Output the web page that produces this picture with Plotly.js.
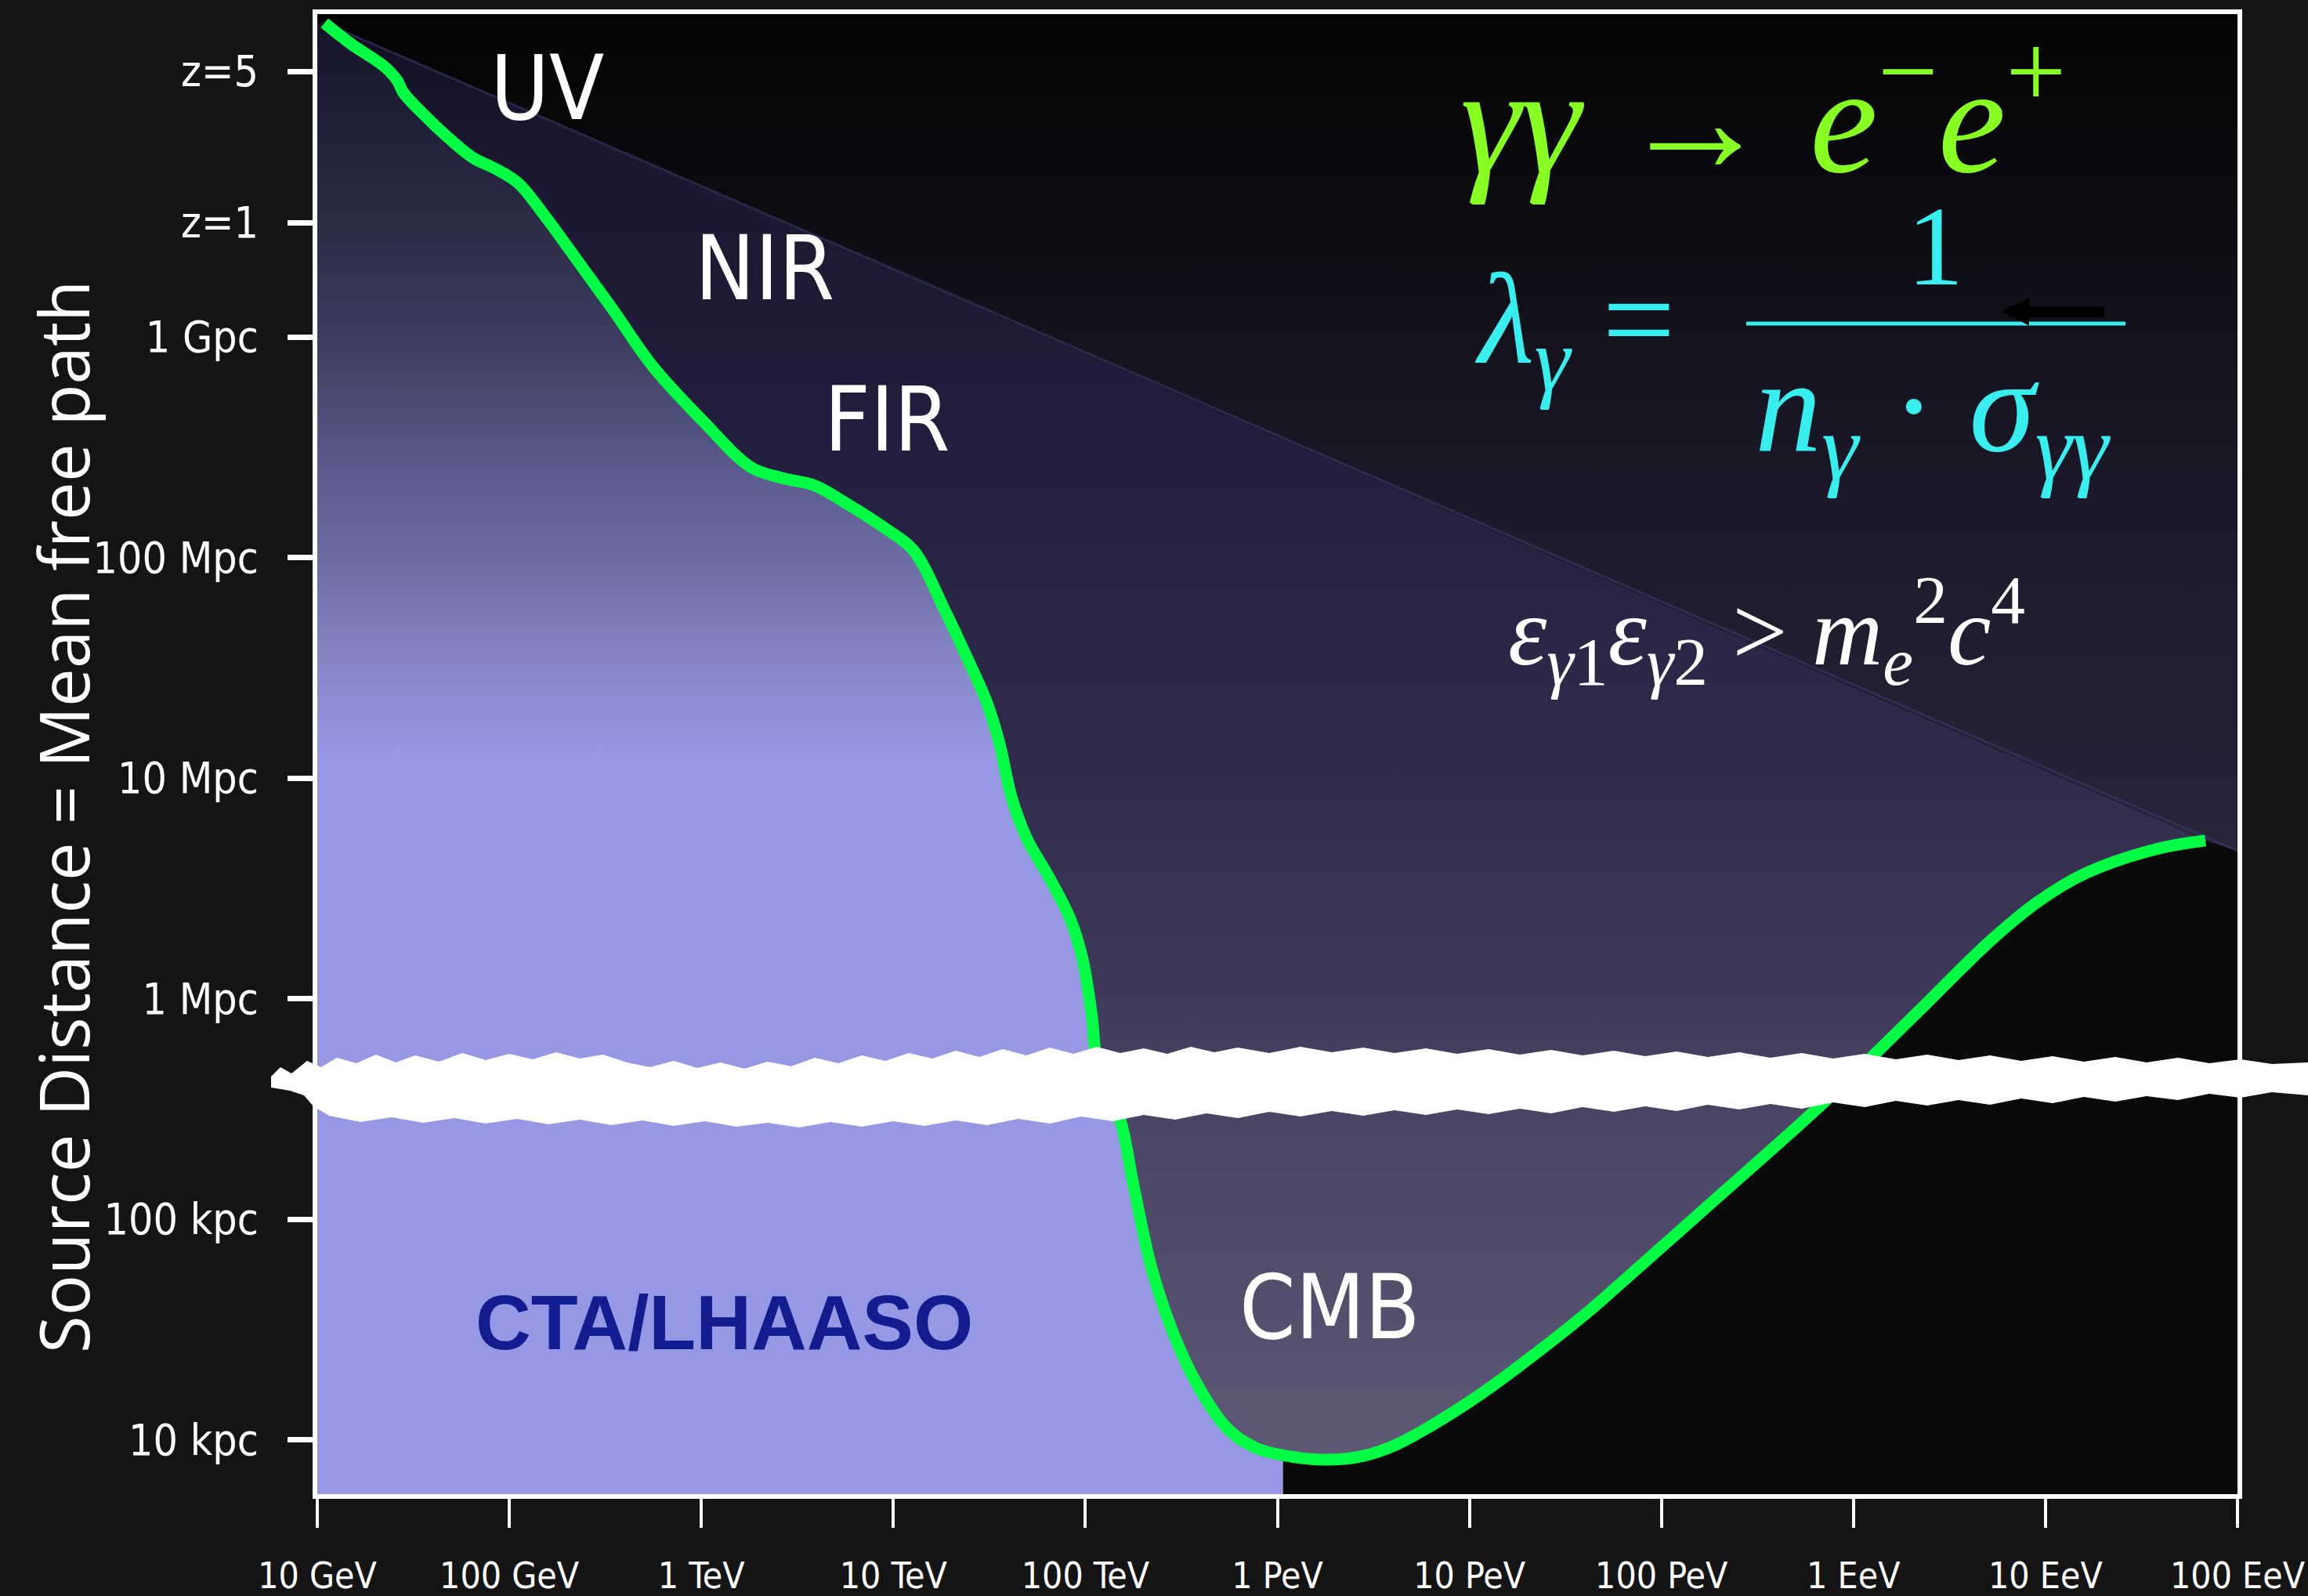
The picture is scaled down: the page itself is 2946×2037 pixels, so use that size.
<!DOCTYPE html>
<html><head><meta charset="utf-8">
<script src="https://cdn.plot.ly/plotly-3.0.1.min.js"></script>
<style>html,body{margin:0;padding:0;background:#141414;} #chart{width:2946px;height:2037px;}</style>
</head><body><div id="chart"></div>
<script>
// ---- tick labels ----
const energyTickVals = [1e1,1e2,1e3,1e4,1e5,1e6,1e7,1e8,1e9,1e10,1e11]; // GeV
const energyTickText = ["10 GeV","100 GeV","1 TeV","10 TeV","100 TeV","1 PeV","10 PeV","100 PeV","1 EeV","10 EeV","100 EeV"];
const distTickVals = [1e1,1e2,1e3,1e4,1e5,1e6,3.3e6,1.6e7]; // kpc
const distTickText = ["10 kpc","100 kpc","1 Mpc","10 Mpc","100 Mpc","1 Gpc","z=1","z=5"];

// ---- gamma-ray mean free path (green curve): energy in GeV, distance in kpc ----
const curveE = [10.9, 15.1, 22.2, 26.0, 28.1, 35.8, 47.0, 64.7, 84.9, 111, 153, 223, 344, 558, 1010, 1820, 2650, 3900, 5680, 9140,
  12700, 18500, 24900, 30700, 35600, 41400, 49500, 65000, 83000, 96400, 107900, 116100, 151000, 179100, 219800, 283100, 378400,
  550800, 772700, 1.07e6, 1.78e6, 2.72e6, 4.14e6, 6.25e6, 1.17e7, 2.20e7, 4.12e7, 6.17e7, 1.75e8, 5.43e8, 1.07e9, 2.22e9,
  5.21e9, 9.14e9, 1.62e10, 3.77e10, 6.81e10];
const curveD = [2.65e7, 2.12e7, 1.69e7, 1.46e7, 1.28e7, 1.02e7, 8.15e6, 6.49e6, 5.78e6, 4.99e6, 3.54e6, 2.26e6, 1.34e6, 7.36e5,
  4.19e5, 2.56e5, 2.29e5, 2.12e5, 1.76e5, 1.35e5, 1.08e5, 5.78e4, 3.33e4, 2.20e4, 1.45e4, 8110, 5330, 3520, 2320, 1530, 847,
  498, 288, 139, 61.2, 31.3, 18.1, 11.2, 9.18, 8.5, 8.11, 8.39, 9.48, 11.5, 16.3, 24.5, 37.8, 51.4, 115, 276, 478, 889, 1840,
  2750, 3700, 4760, 5210];

// ---- horizon (upper boundary of the photon-field region) ----
const horizonE = [10.9, 1e11];
const horizonD = [2.65e7, 4680];

// ---- CTA/LHAASO energy reach (GeV) ----
const ctaMaxE = 1.07e6;

// ---- axis ranges (log10) ----
const xRange = [1, 11];
const yRange = [0.7531, 7.4636];
const dTop = Math.pow(10, yRange[1]);
const dBottom = Math.pow(10, yRange[0]);
const eLeft = Math.pow(10, xRange[0]);
const eRight = Math.pow(10, xRange[1]);

const nLast = curveE.length - 1;

// Region above horizon
const skyTrace = {
  x: [eLeft, eRight, eRight, curveE[nLast], curveE[0], eLeft],
  y: [dTop, dTop, horizonD[1], curveD[nLast], curveD[0], curveD[0]],
  mode: 'lines', line: {width: 0}, fill: 'toself',
  fillgradient: {type: 'vertical', colorscale: [[0,'#28253c'],[0.146,'#232034'],[0.434,'#1b1929'],[0.736,'#0e0d13'],[1,'#030303']]},
  hoverinfo: 'skip', showlegend: false
};

// Region between horizon and curve (photon fields)
const fieldTrace = {
  x: curveE, y: curveD, mode: 'lines', line: {width: 0, shape: 'spline', smoothing: 1}, fill: 'toself',
  fillgradient: {type: 'vertical', colorscale: [[0,'#5e5975'],[0.128,'#524d6b'],[0.242,'#4a4565'],[0.322,'#3f3a5a'],[0.489,'#302b4b'],[0.711,'#221e3e'],[0.791,'#1e1b36'],[0.916,'#1a182f'],[1,'#100f22']]},
  hoverinfo: 'skip', showlegend: false
};

// CTA/LHAASO region (below curve up to ctaMaxE)
const ctaX = [eLeft], ctaY = [curveD[0]];
for (let i = 0; i < curveE.length; i++) { if (curveE[i] <= ctaMaxE) { ctaX.push(curveE[i]); ctaY.push(curveD[i]); } }
ctaX.push(ctaMaxE, eLeft); ctaY.push(dBottom, dBottom);
const ctaTrace = {
  x: ctaX, y: ctaY, mode: 'lines', line: {width: 0}, fill: 'toself',
  fillgradient: {type: 'vertical', colorscale: [[0,'#9698e4'],[0.503,'#9698e4'],[0.572,'#8484c4'],[0.635,'#6b6ca2'],[0.698,'#5a5a8c'],[0.784,'#3d3d60'],[0.869,'#2a2a44'],[1,'#15142a']]},
  hoverinfo: 'skip', showlegend: false
};

const horizonTrace = {
  x: horizonE, y: horizonD, mode: 'lines', line: {color: 'rgba(60,57,105,0.6)', width: 3},
  hoverinfo: 'skip', showlegend: false
};

const curveTrace = {
  x: curveE, y: curveD, mode: 'lines',
  line: {color: '#00ff44', width: 15, shape: 'spline', smoothing: 1},
  hoverinfo: 'skip', showlegend: false
};

// pixel -> paper helpers for decorations
const L = 405, R = 2856, T = 18, B = 1907;
const PX = x => (x - L) / (R - L);
const PY = y => (B - y) / (B - T);

// white brush stroke (axis break)
const brushTop = [[346,1374],[358,1362],[372,1370],[392,1354],[410,1362],[430,1350],[455,1357],[480,1346],[505,1356],[530,1347],[560,1355],[590,1344],[620,1353],[650,1345],[680,1352],[710,1343],[740,1351],[770,1346],[800,1356],[830,1362],[860,1354],[890,1363],[920,1356],[950,1364],[980,1355],[1010,1361],[1040,1350],[1070,1357],[1100,1347],[1130,1354],[1160,1344],[1190,1351],[1220,1341],[1250,1349],[1280,1339],[1310,1347],[1340,1337],[1370,1345],[1400,1336],[1430,1344],[1460,1338],[1490,1345],[1520,1336],[1550,1343],[1580,1337],[1620,1344],[1660,1336],[1700,1343],[1740,1337],[1780,1344],[1820,1338],[1860,1345],[1900,1339],[1940,1346],[1980,1340],[2020,1347],[2060,1341],[2100,1348],[2140,1342],[2180,1349],[2220,1343],[2260,1350],[2300,1344],[2340,1351],[2380,1345],[2420,1352],[2460,1346],[2500,1353],[2540,1347],[2580,1354],[2620,1348],[2660,1355],[2700,1349],[2740,1356],[2780,1350],[2820,1357],[2860,1352],[2900,1358],[2946,1356]];
const brushBottom = [[2946,1398],[2900,1394],[2860,1401],[2820,1396],[2780,1404],[2740,1399],[2700,1406],[2660,1400],[2620,1408],[2580,1402],[2540,1410],[2500,1404],[2460,1411],[2420,1405],[2380,1413],[2340,1407],[2300,1415],[2260,1409],[2220,1416],[2180,1410],[2140,1418],[2100,1412],[2060,1419],[2020,1413],[1980,1421],[1940,1415],[1900,1422],[1860,1416],[1820,1423],[1780,1417],[1740,1424],[1700,1418],[1660,1425],[1620,1419],[1580,1427],[1540,1421],[1500,1429],[1460,1423],[1420,1431],[1380,1425],[1340,1434],[1300,1428],[1260,1436],[1220,1430],[1180,1437],[1140,1431],[1100,1438],[1060,1432],[1020,1439],[980,1433],[940,1438],[900,1431],[860,1437],[820,1430],[780,1436],[740,1429],[700,1435],[660,1428],[620,1434],[580,1427],[540,1433],[500,1426],[460,1432],[420,1424],[400,1412],[388,1398],[370,1392],[346,1388]];
const brushPts = brushTop.concat(brushBottom);
const brushPath = 'M ' + brushPts.map(p => PX(p[0]).toFixed(5) + ',' + PY(p[1]).toFixed(5)).join(' L ') + ' Z';

const condensed = 'DejaVu Sans Condensed, Liberation Sans Narrow, DejaVu Sans, sans-serif';
const serif = 'Liberation Serif, Times New Roman, serif';

function label(text, x, y, size, color, family, extra) {
  return Object.assign({text: text, x: PX(x), y: PY(y), xref: 'paper', yref: 'paper', showarrow: false,
    xanchor: 'center', yanchor: 'middle', font: {size: size, color: color, family: family}}, extra || {});
}

const annotations = [
  label('UV', 698, 113, 114, '#ffffff', condensed),
  label('NIR', 976, 342, 114, '#ffffff', condensed),
  label('FIR', 1132, 536, 114, '#ffffff', condensed),
  label('CMB', 1697, 1668, 114, '#ffffff', condensed),
  label('<b>CTA/LHAASO</b>', 924, 1688, 98, '#121c8f', 'Liberation Sans, Arial, sans-serif'),
  label('Source Distance = Mean free path', 80, 1043, 87, '#ffffff', 'Open Sans, DejaVu Sans, sans-serif', {textangle: -90}),
  label('<i>γγ</i> → <i>e</i><sup>−</sup><i>e</i><sup>+</sup>', 2250, 138, 195, '#88ff22', serif),
  label('<i>λ</i><sub><i>γ</i></sub> =', 2010, 420, 165, '#38eeee', serif),
  label('1', 2470, 314, 145, '#38eeee', serif),
  label('<i>n</i><sub><i>γ</i></sub> · <i>σ</i><sub><i>γγ</i></sub>', 2467, 530, 170, '#38eeee', serif),
  label('<i>ε</i><sub><i>γ</i>1</sub><i>ε</i><sub><i>γ</i>2</sub> > <i>m</i><sub><i>e</i></sub><sup>2</sup><i>c</i><sup>4</sup>', 2255, 805, 125, '#ffffff', serif),
  {x: PX(2555), y: PY(398), xref: 'paper', yref: 'paper', text: '', showarrow: true, ax: 133, ay: 0,
   arrowcolor: '#000000', arrowwidth: 14, arrowhead: 2, arrowsize: 0.5, standoff: 0}
];

const shapes = [
  {type: 'line', xref: 'paper', yref: 'paper', x0: PX(2229), x1: PX(2713), y0: PY(413), y1: PY(413),
   line: {color: '#38eeee', width: 5}, layer: 'above'},
  {type: 'path', xref: 'paper', yref: 'paper', path: brushPath, fillcolor: '#ffffff', line: {width: 0}, layer: 'above'}
];

const layout = {
  width: 2946, height: 2037,
  paper_bgcolor: '#141414', plot_bgcolor: '#0b0b0b',
  margin: {l: L, r: 2946 - R, t: T, b: 2037 - B, pad: 0},
  showlegend: false,
  xaxis: {type: 'log', range: xRange, tickmode: 'array', tickvals: energyTickVals, ticktext: energyTickText,
    ticks: 'outside', ticklen: 37, tickwidth: 4, tickcolor: '#ffffff',
    showline: true, linecolor: '#ffffff', linewidth: 6, mirror: true, showgrid: false, zeroline: false,
    tickfont: {family: condensed, size: 46, color: '#ffffff'}, ticklabelstandoff: 22, fixedrange: true},
  yaxis: {type: 'log', range: yRange, tickmode: 'array', tickvals: distTickVals, ticktext: distTickText,
    ticks: 'outside', ticklen: 32, tickwidth: 7, tickcolor: '#ffffff',
    showline: true, linecolor: '#ffffff', linewidth: 6, mirror: true, showgrid: false, zeroline: false,
    tickfont: {family: condensed, size: 55, color: '#ffffff'}, ticklabelstandoff: 26, fixedrange: true},
  annotations: annotations,
  shapes: shapes
};

Plotly.newPlot('chart', [skyTrace, fieldTrace, ctaTrace, horizonTrace, curveTrace], layout, {displayModeBar: false, staticPlot: true});
</script>
</body></html>
